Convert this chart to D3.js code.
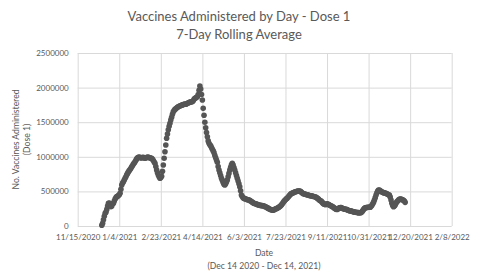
<!DOCTYPE html>
<html>
<head>
<meta charset="utf-8">
<script src="https://cdn.jsdelivr.net/npm/d3@7"></script>
<style>
  body { margin: 0; background: #fff; }
  text { font-family: Lato, "Open Sans", sans-serif; fill: #595959; }
</style>
</head>
<body>
<div id="chart"></div>
<script>
// first day of the series, one value per day after it
const startDate = '2020-12-14';

// 7-day rolling average of first doses, in thousands
const dose1K = [
  // Dec 2020 (from the 14th)
  10, 40, 90, 140, 183, 200, 240, 290, 328, 330, 300, 280, 290, 320, 328, 360, 390, 410,
  // Jan 2021
  424, 430, 440, 450, 472, 530, 592, 620, 640, 665, 689, 710, 740, 760, 785, 800,
  815, 835, 857, 875, 895, 910, 929, 950, 970, 985, 992, 995, 990, 985, 988,
  // Feb
  990, 992, 985, 980, 985, 990, 995, 992, 990, 985, 980, 978, 965, 945, 925, 906,
  860, 810, 770, 737, 710, 689, 700, 720, 790, 881, 980, 1074,
  // Mar
  1170, 1267, 1330, 1390, 1440, 1484, 1530, 1570, 1615, 1652, 1670, 1685, 1695, 1705, 1715, 1724,
  1730, 1735, 1740, 1745, 1750, 1755, 1760, 1763, 1760, 1765, 1770, 1780, 1785, 1790, 1792,
  // Apr
  1796, 1800, 1810, 1830, 1845, 1850, 1860, 1868, 1900, 1960, 2023, 1980, 1900, 1820, 1700,
  1600, 1500, 1420, 1350, 1290, 1230, 1195, 1175, 1160, 1135, 1110, 1085, 1060, 1020, 985,
  // May
  954, 920, 860, 810, 770, 730, 689, 660, 630, 605, 592, 610, 635, 665, 710, 760,
  809, 850, 885, 906, 880, 845, 809, 770, 730, 689, 650, 610, 568, 510, 448,
  // Jun
  425, 410, 400, 395, 390, 385, 382, 378, 376, 370, 362, 355, 345, 335, 328,
  325, 322, 318, 312, 308, 304, 300, 298, 296, 294, 292, 288, 283, 278, 272,
  // Jul
  265, 258, 250, 244, 238, 234, 231, 228, 234, 240, 246, 252, 255, 262, 270, 280,
  290, 303, 318, 335, 352, 368, 380, 392, 400, 415, 430, 445, 458, 468, 472,
  // Aug
  478, 484, 490, 494, 498, 502, 505, 506, 505, 500, 490, 480, 470, 465, 462, 458,
  455, 452, 448, 444, 440, 438, 438, 434, 430, 426, 422, 418, 414, 405, 395,
  // Sep
  385, 373, 365, 361, 345, 330, 318, 313, 310, 312, 320, 318, 310, 303, 295,
  288, 283, 279, 268, 258, 248, 241, 240, 245, 255, 262, 265, 265, 258, 252,
  // Oct
  248, 244, 241, 241, 236, 230, 225, 221, 219, 217, 213, 208, 204, 201, 199, 198,
  196, 194, 193, 192, 192, 195, 205, 222, 240, 255, 262, 266, 268, 270, 270,
  // Nov
  270, 272, 285, 300, 320, 345, 375, 410, 448, 480, 505, 520, 520, 510, 500,
  492, 486, 482, 478, 474, 472, 466, 458, 452, 448, 420, 375, 330, 295, 279,
  // Dec 2021 (to the 14th)
  290, 303, 330, 350, 361, 375, 385, 390, 388, 384, 378, 372, 360, 342
];

const xTickLabels = ['11/15/2020', '1/4/2021', '2/23/2021', '4/14/2021', '6/3/2021',
  '7/23/2021', '9/11/2021', '10/31/2021', '12/20/2021', '2/8/2022'];
const yTicks = [0, 500000, 1000000, 1500000, 2000000, 2500000];

const width = 481, height = 276;
const margin = { left: 77.7, right: 29.3, top: 53, bottom: 50 };

const parseTick = d3.timeParse('%m/%d/%Y');
const tickDates = xTickLabels.map(parseTick);
const day0 = d3.timeParse('%Y-%m-%d')(startDate);
const points = dose1K.map((v, i) => ({ date: d3.timeDay.offset(day0, i), value: v * 1000 }));

const svg = d3.select('#chart').append('svg')
  .attr('width', width)
  .attr('height', height);

const x = d3.scaleTime()
  .domain([tickDates[0], tickDates[tickDates.length - 1]])
  .range([margin.left, width - margin.right]);
const y = d3.scaleLinear()
  .domain([0, 2500000])
  .range([height - margin.bottom, margin.top]);

// gridlines
svg.append('g')
  .attr('transform', 'translate(0,' + (height - margin.bottom) + ')')
  .call(d3.axisBottom(x).tickValues(tickDates)
    .tickSize(-(height - margin.bottom - margin.top)).tickFormat(''))
  .call(g => g.select('.domain').remove())
  .selectAll('line').attr('stroke', '#d9d9d9');
svg.append('g')
  .attr('transform', 'translate(' + margin.left + ',0)')
  .call(d3.axisLeft(y).tickValues(yTicks)
    .tickSize(-(width - margin.left - margin.right)).tickFormat(''))
  .call(g => g.select('.domain').remove())
  .selectAll('line').attr('stroke', '#d9d9d9');

// tick labels
svg.append('g')
  .attr('transform', 'translate(0,' + (height - margin.bottom) + ')')
  .call(d3.axisBottom(x).tickValues(tickDates).tickSize(0).tickPadding(8)
    .tickFormat((d, i) => xTickLabels[i]))
  .call(g => g.select('.domain').remove())
  .selectAll('text').attr('font-size', 8).style('font-family', 'Lato');
svg.append('g')
  .attr('transform', 'translate(' + (margin.left - 9) + ',0)')
  .call(d3.axisLeft(y).tickValues(yTicks).tickSize(0).tickPadding(0)
    .tickFormat(d3.format('d')))
  .call(g => g.select('.domain').remove())
  .selectAll('text').attr('font-size', 8).style('font-family', 'Lato');

// dots
svg.append('g')
  .selectAll('circle')
  .data(points)
  .enter().append('circle')
  .attr('cx', d => x(d.date))
  .attr('cy', d => y(d.value))
  .attr('r', 2.8)
  .attr('fill', '#555555');

// titles
svg.append('text').attr('x', 239).attr('y', 21).attr('text-anchor', 'middle')
  .attr('font-size', 13).text('Vaccines Administered by Day - Dose 1');
svg.append('text').attr('x', 239).attr('y', 39).attr('text-anchor', 'middle')
  .attr('font-size', 13).text('7-Day Rolling Average');

svg.append('text').attr('x', 264).attr('y', 256).attr('text-anchor', 'middle')
  .attr('font-size', 8.6).text('Date');
svg.append('text').attr('x', 264).attr('y', 269).attr('text-anchor', 'middle')
  .attr('font-size', 8.6).text('(Dec 14 2020 - Dec 14, 2021)');

const yTitle = svg.append('g').attr('transform', 'translate(19,139.5) rotate(-90)');
yTitle.append('text').attr('text-anchor', 'middle').attr('font-size', 8.6)
  .text('No. Vaccines Administered');
yTitle.append('text').attr('y', 11).attr('text-anchor', 'middle').attr('font-size', 8.6)
  .text('(Dose 1)');
</script>
</body>
</html>
